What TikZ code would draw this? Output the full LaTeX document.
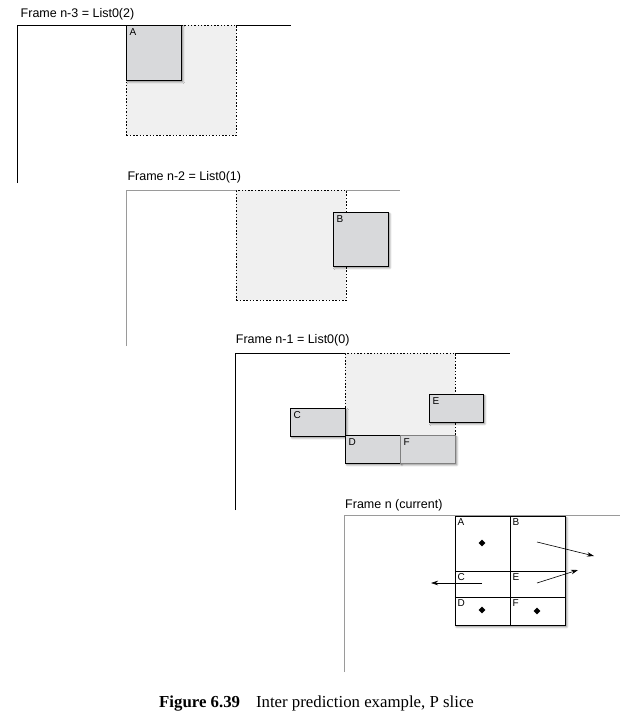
\documentclass[tikz,border=0pt]{standalone}
\usepackage{fontspec}
\setmainfont{Liberation Serif}
\setsansfont{Liberation Sans}
\usetikzlibrary{shapes.geometric,arrows.meta,shadows.blur}
\definecolor{blockgray}{HTML}{D8D9DB}
\definecolor{areagray}{HTML}{F0F0F0}
\definecolor{linegray}{HTML}{9A9A9A}
\tikzset{
  framelbl/.style={anchor=base west,inner sep=0pt,font=\sffamily\fontsize{12.5}{14}\selectfont},
  frameline/.style={line width=0.9pt},
  searcharea/.style={draw=black,fill=areagray,line width=0.9pt,dash pattern=on 1.5pt off 1.8pt,anchor=north west,inner sep=0pt,minimum width=110pt,minimum height=110pt},
  blk/.style={draw=black,fill=blockgray,line width=0.9pt,anchor=north west,inner sep=0pt,
    blur shadow={shadow xshift=1.5pt,shadow yshift=-1.5pt,shadow blur steps=6,shadow opacity=45}},
  blklbl/.style={anchor=north west,inner sep=0pt,xshift=3.5pt,yshift=-3.5pt,font=\sffamily\fontsize{10}{11}\selectfont},
  cell/.style={draw=black,line width=0.9pt,anchor=north west,inner sep=0pt},
  dot/.style={diamond,fill=black,inner sep=0pt,minimum size=7pt},
  mv/.style={line width=0.6pt,-{Stealth[length=7pt,width=4.5pt]}}
}
\begin{document}
\begin{tikzpicture}[x=1pt,y=-1pt]
\useasboundingbox (0,0) rectangle (634,718);
% ---------- Frame n-3 ----------
\node[framelbl] (l3) at (20.5,17) {Frame n-3 = List0(2)};
\coordinate (f3a) at (17,183); \coordinate (f3b) at (17,25); \coordinate (f3c) at (291,25);
\draw[frameline] (f3a) -- (f3b) -- (f3c);
\node[searcharea] (s3) at (126,25) {};
\node[blk,minimum width=55pt,minimum height=55pt] (A0) at (126,25) {};
\node[blklbl] at (A0.north west) {A};
% ---------- Frame n-2 ----------
\node[framelbl] (l2) at (127.3,180.5) {Frame n-2 = List0(1)};
\coordinate (f2a) at (126,346); \coordinate (f2b) at (126,190); \coordinate (f2c) at (400,190);
\draw[frameline,draw=linegray] (f2a) -- (f2b) -- (f2c);
\node[searcharea] (s2) at (236,190) {};
\node[blk,minimum width=55pt,minimum height=54pt] (B0) at (333,212) {};
\node[blklbl] at (B0.north west) {B};
% ---------- Frame n-1 ----------
\node[framelbl] (l1) at (235.7,343.5) {Frame n-1 = List0(0)};
\coordinate (f1a) at (235,510); \coordinate (f1b) at (235,353); \coordinate (f1c) at (510,353);
\draw[frameline] (f1a) -- (f1b) -- (f1c);
\node[searcharea] (s1) at (345,353) {};
\node[blk,minimum width=55pt,minimum height=28pt] (C0) at (290,408) {};
\node[blklbl] at (C0.north west) {C};
\node[blk,minimum width=54pt,minimum height=28pt] (E0) at (429,394) {};
\node[blklbl] at (E0.north west) {E};
\node[blk,minimum width=55pt,minimum height=28pt] (D0) at (345,435) {};
\node[blklbl] at (D0.north west) {D};
\node[blk,draw=gray,minimum width=55pt,minimum height=28pt] (F0) at (400,435) {};
\node[blklbl] at (F0.north west) {F};
% ---------- Frame n ----------
\node[framelbl] (l0) at (345,508) {Frame n (current)};
\coordinate (f0a) at (344,672); \coordinate (f0b) at (344,515.5); \coordinate (f0c) at (620,515.5);
\draw[frameline,draw=linegray] (f0a) -- (f0b) -- (f0c);
\node[cell,fill=white,minimum width=110.5pt,minimum height=109pt,
  blur shadow={shadow xshift=1.5pt,shadow yshift=-2pt,shadow blur steps=6,shadow opacity=45}] (mb) at (454.5,515.5) {};
\node[cell,minimum width=55pt,minimum height=55pt] (cA) at (454.5,515.5) {};
\node[cell,minimum width=55.5pt,minimum height=55pt] (cB) at (509.5,515.5) {};
\node[cell,minimum width=55pt,minimum height=26.5pt] (cC) at (454.5,570.5) {};
\node[cell,minimum width=55.5pt,minimum height=26.5pt] (cE) at (509.5,570.5) {};
\node[cell,minimum width=55pt,minimum height=27.5pt] (cD) at (454.5,597) {};
\node[cell,minimum width=55.5pt,minimum height=27.5pt] (cF) at (509.5,597) {};
\foreach \c/\t in {cA/A,cB/B,cC/C,cE/E,cD/D,cF/F}{
  \node[blklbl,xshift=-0.5pt,yshift=1pt] at (\c.north west) {\t};
}
\node[dot] (dA) at (482,543) {};
\node[dot] (dD) at (482,610) {};
\node[dot] (dF) at (537,611) {};
\coordinate (mvB0) at (537,542); \coordinate (mvB1) at (594,556);
\coordinate (mvE0) at (537,583); \coordinate (mvE1) at (578,570);
\coordinate (mvC0) at (482,583); \coordinate (mvC1) at (431,583);
\draw[mv] (mvB0) -- (mvB1);
\draw[mv] (mvE0) -- (mvE1);
\draw[mv] (mvC0) -- (mvC1);
% ---------- Caption ----------
\node[anchor=base west,inner sep=0pt,font=\fontsize{16.8}{19}\selectfont] (cap) at (159,707)
  {\textbf{Figure 6.39}\hspace{0.95em}Inter prediction example, P slice};
\end{tikzpicture}
\end{document}
